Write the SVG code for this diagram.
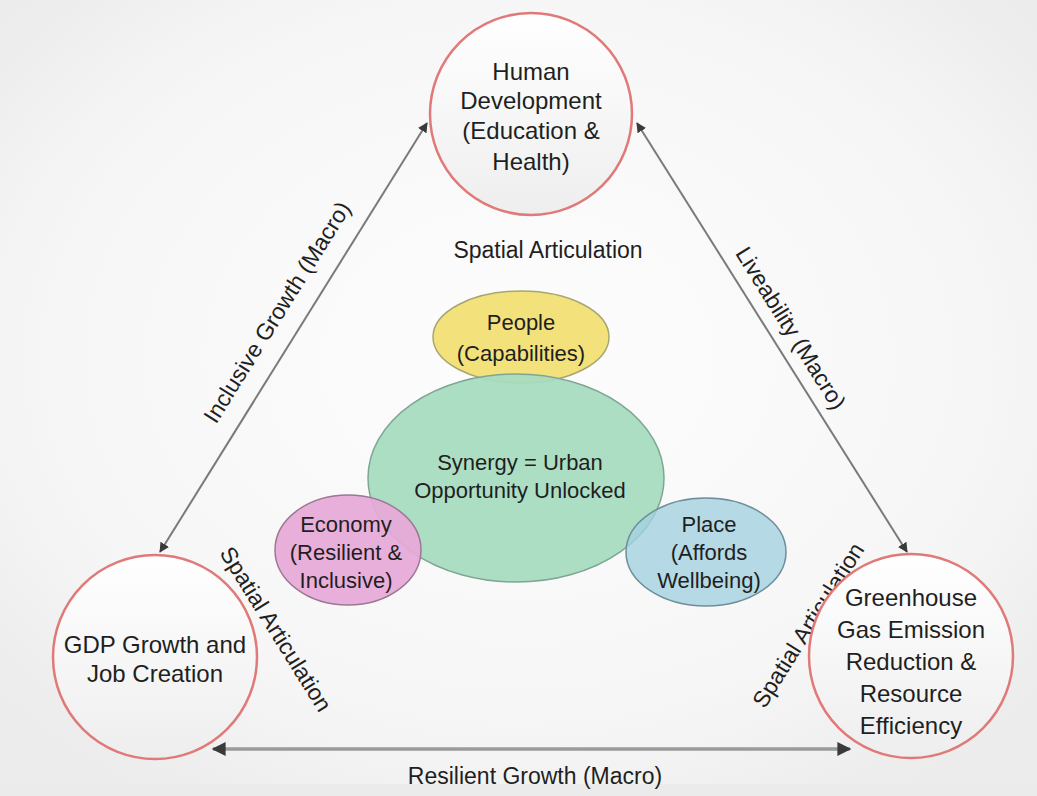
<svg xmlns="http://www.w3.org/2000/svg" width="1037" height="796" viewBox="0 0 1037 796">
<defs>
<radialGradient id="bg" cx="50%" cy="45%" r="65%">
<stop offset="0" stop-color="#fdfdfd"/>
<stop offset="0.7" stop-color="#f6f6f6"/>
<stop offset="1" stop-color="#ececec"/>
</radialGradient>
<linearGradient id="cf" x1="0" y1="0" x2="0" y2="1">
<stop offset="0" stop-color="#ffffff"/>
<stop offset="1" stop-color="#eeeeee"/>
</linearGradient>
<marker id="ah" viewBox="0 0 10 10" refX="9" refY="5" markerWidth="5" markerHeight="5" orient="auto-start-reverse" markerUnits="strokeWidth">
<path d="M0,0 L10,5 L0,10 z" fill="#3a3a3a"/>
</marker>
<marker id="ah2" viewBox="0 0 10 10" refX="9" refY="5" markerWidth="4.5" markerHeight="4" orient="auto-start-reverse" markerUnits="strokeWidth">
<path d="M0,0 L10,5 L0,10 z" fill="#3a3a3a"/>
</marker>
</defs>
<style>
text{font-family:"Liberation Sans",Arial,sans-serif;fill:#1f1f1f;text-anchor:middle}
.big{font-size:24px}
.lab{font-size:23px}
.mid{font-size:22px}
.node{fill:url(#cf);stroke:#e07a78;stroke-width:2.5}
.conn{stroke:#7a7a7a;stroke-width:2;fill:none}
.connb{stroke:#9a9a9a;stroke-width:3.5;fill:none}
</style>
<rect x="0" y="0" width="1037" height="796" fill="url(#bg)"/>
<rect x="0" y="784" width="1037" height="12" fill="#ebebeb"/>

<g id="connectors">
<line class="conn" x1="160" y1="552" x2="427" y2="123" marker-start="url(#ah)" marker-end="url(#ah)"/>
<line class="conn" x1="907" y1="552" x2="637" y2="123" marker-start="url(#ah)" marker-end="url(#ah)"/>
<line class="connb" x1="213" y1="749" x2="850" y2="749" marker-start="url(#ah2)" marker-end="url(#ah2)"/>
</g>

<g id="labels">
<text class="lab" x="548" y="258">Spatial Articulation</text>
<text class="lab" dy="0.35em" transform="translate(277,312) rotate(-58)">Inclusive Growth (Macro)</text>
<text class="lab" dy="0.35em" transform="translate(791,328) rotate(58)">Liveability (Macro)</text>
<text class="lab" dy="0.35em" transform="translate(276,629) rotate(58)">Spatial Articulation</text>
<text class="lab" dy="0.35em" transform="translate(808,625) rotate(-58)">Spatial Articulation</text>
<text class="lab" x="535" y="784">Resilient Growth (Macro)</text>
</g>

<g id="human">
<circle class="node" cx="531" cy="114" r="101"/>
<text class="big" x="531" y="80">Human</text>
<text class="big" x="531" y="109">Development</text>
<text class="big" x="531" y="139">(Education &amp;</text>
<text class="big" x="531" y="170">Health)</text>
</g>

<g id="gdp">
<circle class="node" cx="155" cy="657" r="102"/>
<text class="big" x="155" y="653">GDP Growth and</text>
<text class="big" x="155" y="682">Job Creation</text>
</g>

<g id="ghg">
<circle class="node" cx="911" cy="656" r="102"/>
<text class="big" x="911" y="606">Greenhouse</text>
<text class="big" x="911" y="638">Gas Emission</text>
<text class="big" x="911" y="670">Reduction &amp;</text>
<text class="big" x="911" y="702">Resource</text>
<text class="big" x="911" y="734">Efficiency</text>
</g>

<g id="people">
<ellipse cx="521" cy="337" rx="88" ry="46" fill="#f3e27c" stroke="#a9a570" stroke-width="1.5"/>
<text class="mid" x="521" y="330">People</text>
<text class="mid" x="521" y="361">(Capabilities)</text>
</g>

<g id="synergy">
<ellipse cx="516" cy="478" rx="148" ry="104" fill="#a6dcbf" fill-opacity="0.93" stroke="#7fa694" stroke-width="1.5"/>
<text class="mid" x="520" y="470">Synergy = Urban</text>
<text class="mid" x="520" y="498">Opportunity Unlocked</text>
</g>

<g id="economy">
<ellipse cx="348" cy="550" rx="73" ry="55" fill="#e7a8d8" fill-opacity="0.92" stroke="#9c7894" stroke-width="1.5"/>
<text class="mid" x="346" y="532">Economy</text>
<text class="mid" x="346" y="560">(Resilient &amp;</text>
<text class="mid" x="346" y="588">Inclusive)</text>
</g>

<g id="place">
<ellipse cx="706" cy="552" rx="80" ry="54" fill="#a4d1e0" fill-opacity="0.8" stroke="#6f8e9c" stroke-width="1.5"/>
<text class="mid" x="709" y="532">Place</text>
<text class="mid" x="709" y="560">(Affords</text>
<text class="mid" x="709" y="588">Wellbeing)</text>
</g>
</svg>
